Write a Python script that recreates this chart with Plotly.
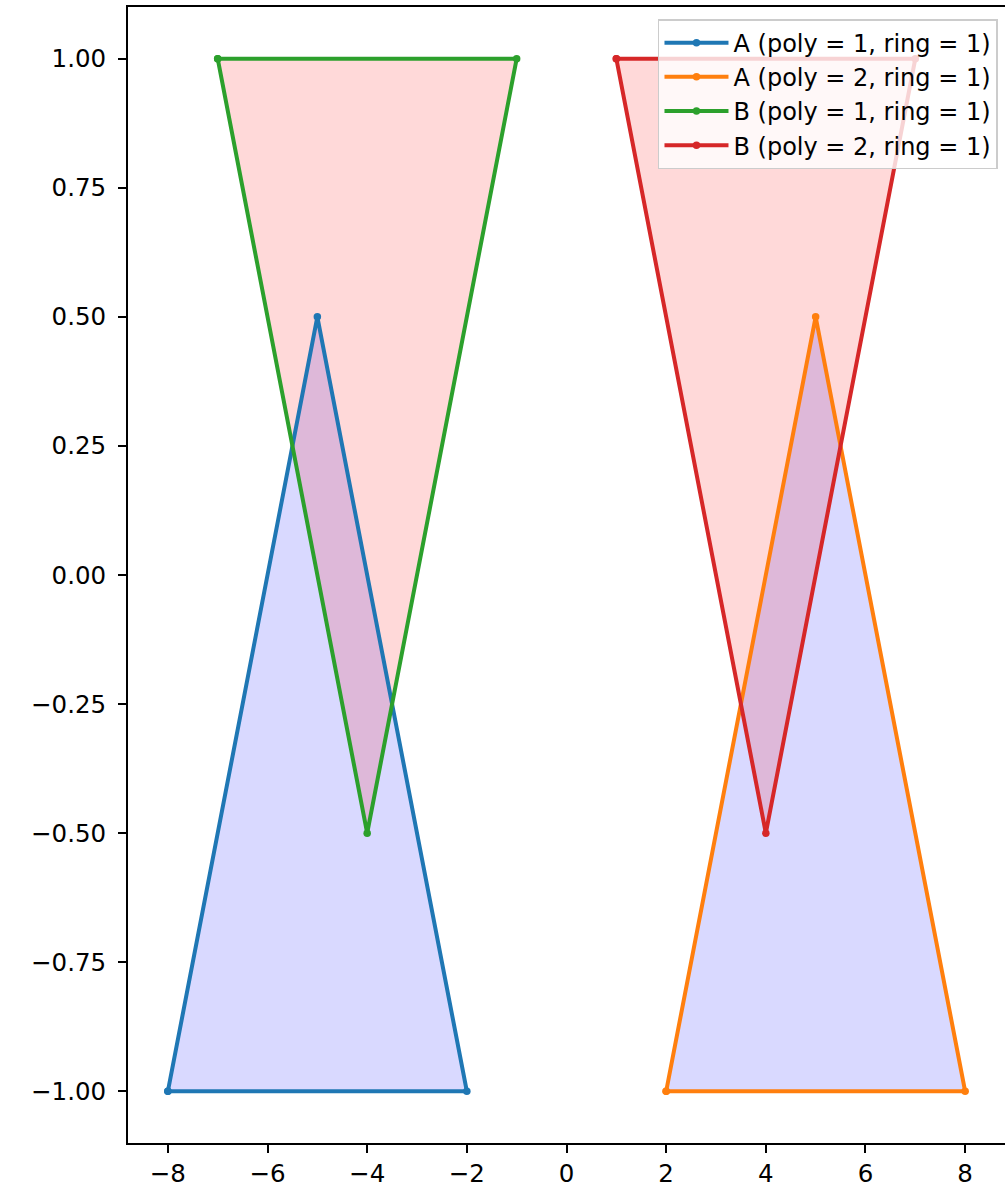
import plotly.graph_objects as go

# ---- data ----
series_names = ["A (poly = 1, ring = 1)", "A (poly = 2, ring = 1)",
                "B (poly = 1, ring = 1)", "B (poly = 2, ring = 1)"]
a1_x = [-8, -5, -2, -8]
a1_y = [-1.0, 0.5, -1.0, -1.0]
a2_x = [2, 5, 8, 2]
a2_y = [-1.0, 0.5, -1.0, -1.0]
b1_x = [-7, -4, -1, -7]
b1_y = [1.0, -0.5, 1.0, 1.0]
b2_x = [1, 4, 7, 1]
b2_y = [1.0, -0.5, 1.0, 1.0]

line_colors = ["#1f77b4", "#ff7f0e", "#2ca02c", "#d62728"]
fill_colors = ["rgba(0,0,255,0.15)", "rgba(0,0,255,0.15)",
               "rgba(255,0,0,0.15)", "rgba(255,0,0,0.15)"]

x_ticks = [-8, -6, -4, -2, 0, 2, 4, 6, 8]
x_ticklabels = ["−8", "−6", "−4", "−2", "0", "2", "4", "6", "8"]
y_ticks = [-1.0, -0.75, -0.5, -0.25, 0.0, 0.25, 0.5, 0.75, 1.0]
y_ticklabels = ["−1.00", "−0.75", "−0.50", "−0.25", "0.00", "0.25", "0.50", "0.75", "1.00"]

polys = [(a1_x, a1_y), (a2_x, a2_y), (b1_x, b1_y), (b2_x, b2_y)]

fig = go.Figure()

# fills first
for (xs, ys), fc in zip(polys, fill_colors):
    fig.add_trace(go.Scatter(x=xs, y=ys, mode="lines", fill="toself",
                             fillcolor=fc, line=dict(width=0),
                             showlegend=False, hoverinfo="skip"))

# outlines with vertex markers
for (xs, ys), name, lc in zip(polys, series_names, line_colors):
    fig.add_trace(go.Scatter(x=xs, y=ys, mode="lines+markers", name=name,
                             legendgroup=name,
                             line=dict(color=lc, width=4),
                             marker=dict(color=lc, size=7.5)))

font_family = "DejaVu Sans"
axis_common = dict(showline=True, linecolor="black", linewidth=1.9, mirror=True,
                   ticks="outside", ticklen=8, tickwidth=1.9, tickcolor="black",
                   showgrid=False, zeroline=False, automargin=False,
                   tickfont=dict(family=font_family, size=24.5, color="black"))

fig.update_layout(
    width=1005, height=1187,
    margin=dict(l=128, r=0, t=7, b=44),
    paper_bgcolor="white", plot_bgcolor="white",
    font=dict(family=font_family, size=24, color="black"),
    xaxis=dict(range=[-8.8, 8.8], tickmode="array", tickvals=x_ticks,
               ticktext=x_ticklabels, ticklabelstandoff=0, **axis_common),
    yaxis=dict(range=[-1.1, 1.1], tickmode="array", tickvals=y_ticks,
               ticktext=y_ticklabels, ticklabelstandoff=7, **axis_common),
    legend=dict(x=0.992, y=0.9894, xanchor="right", yanchor="top",
                bgcolor="rgba(255,255,255,0.8)", bordercolor="rgb(204,204,204)",
                borderwidth=1.5, font=dict(family=font_family, size=24, color="black"),
                itemwidth=64, tracegroupgap=0),
    showlegend=True,
)

fig.write_html("out.html", config={"displayModeBar": False},
               post_script="document.body.style.margin='0';document.body.style.overflow='hidden';")
